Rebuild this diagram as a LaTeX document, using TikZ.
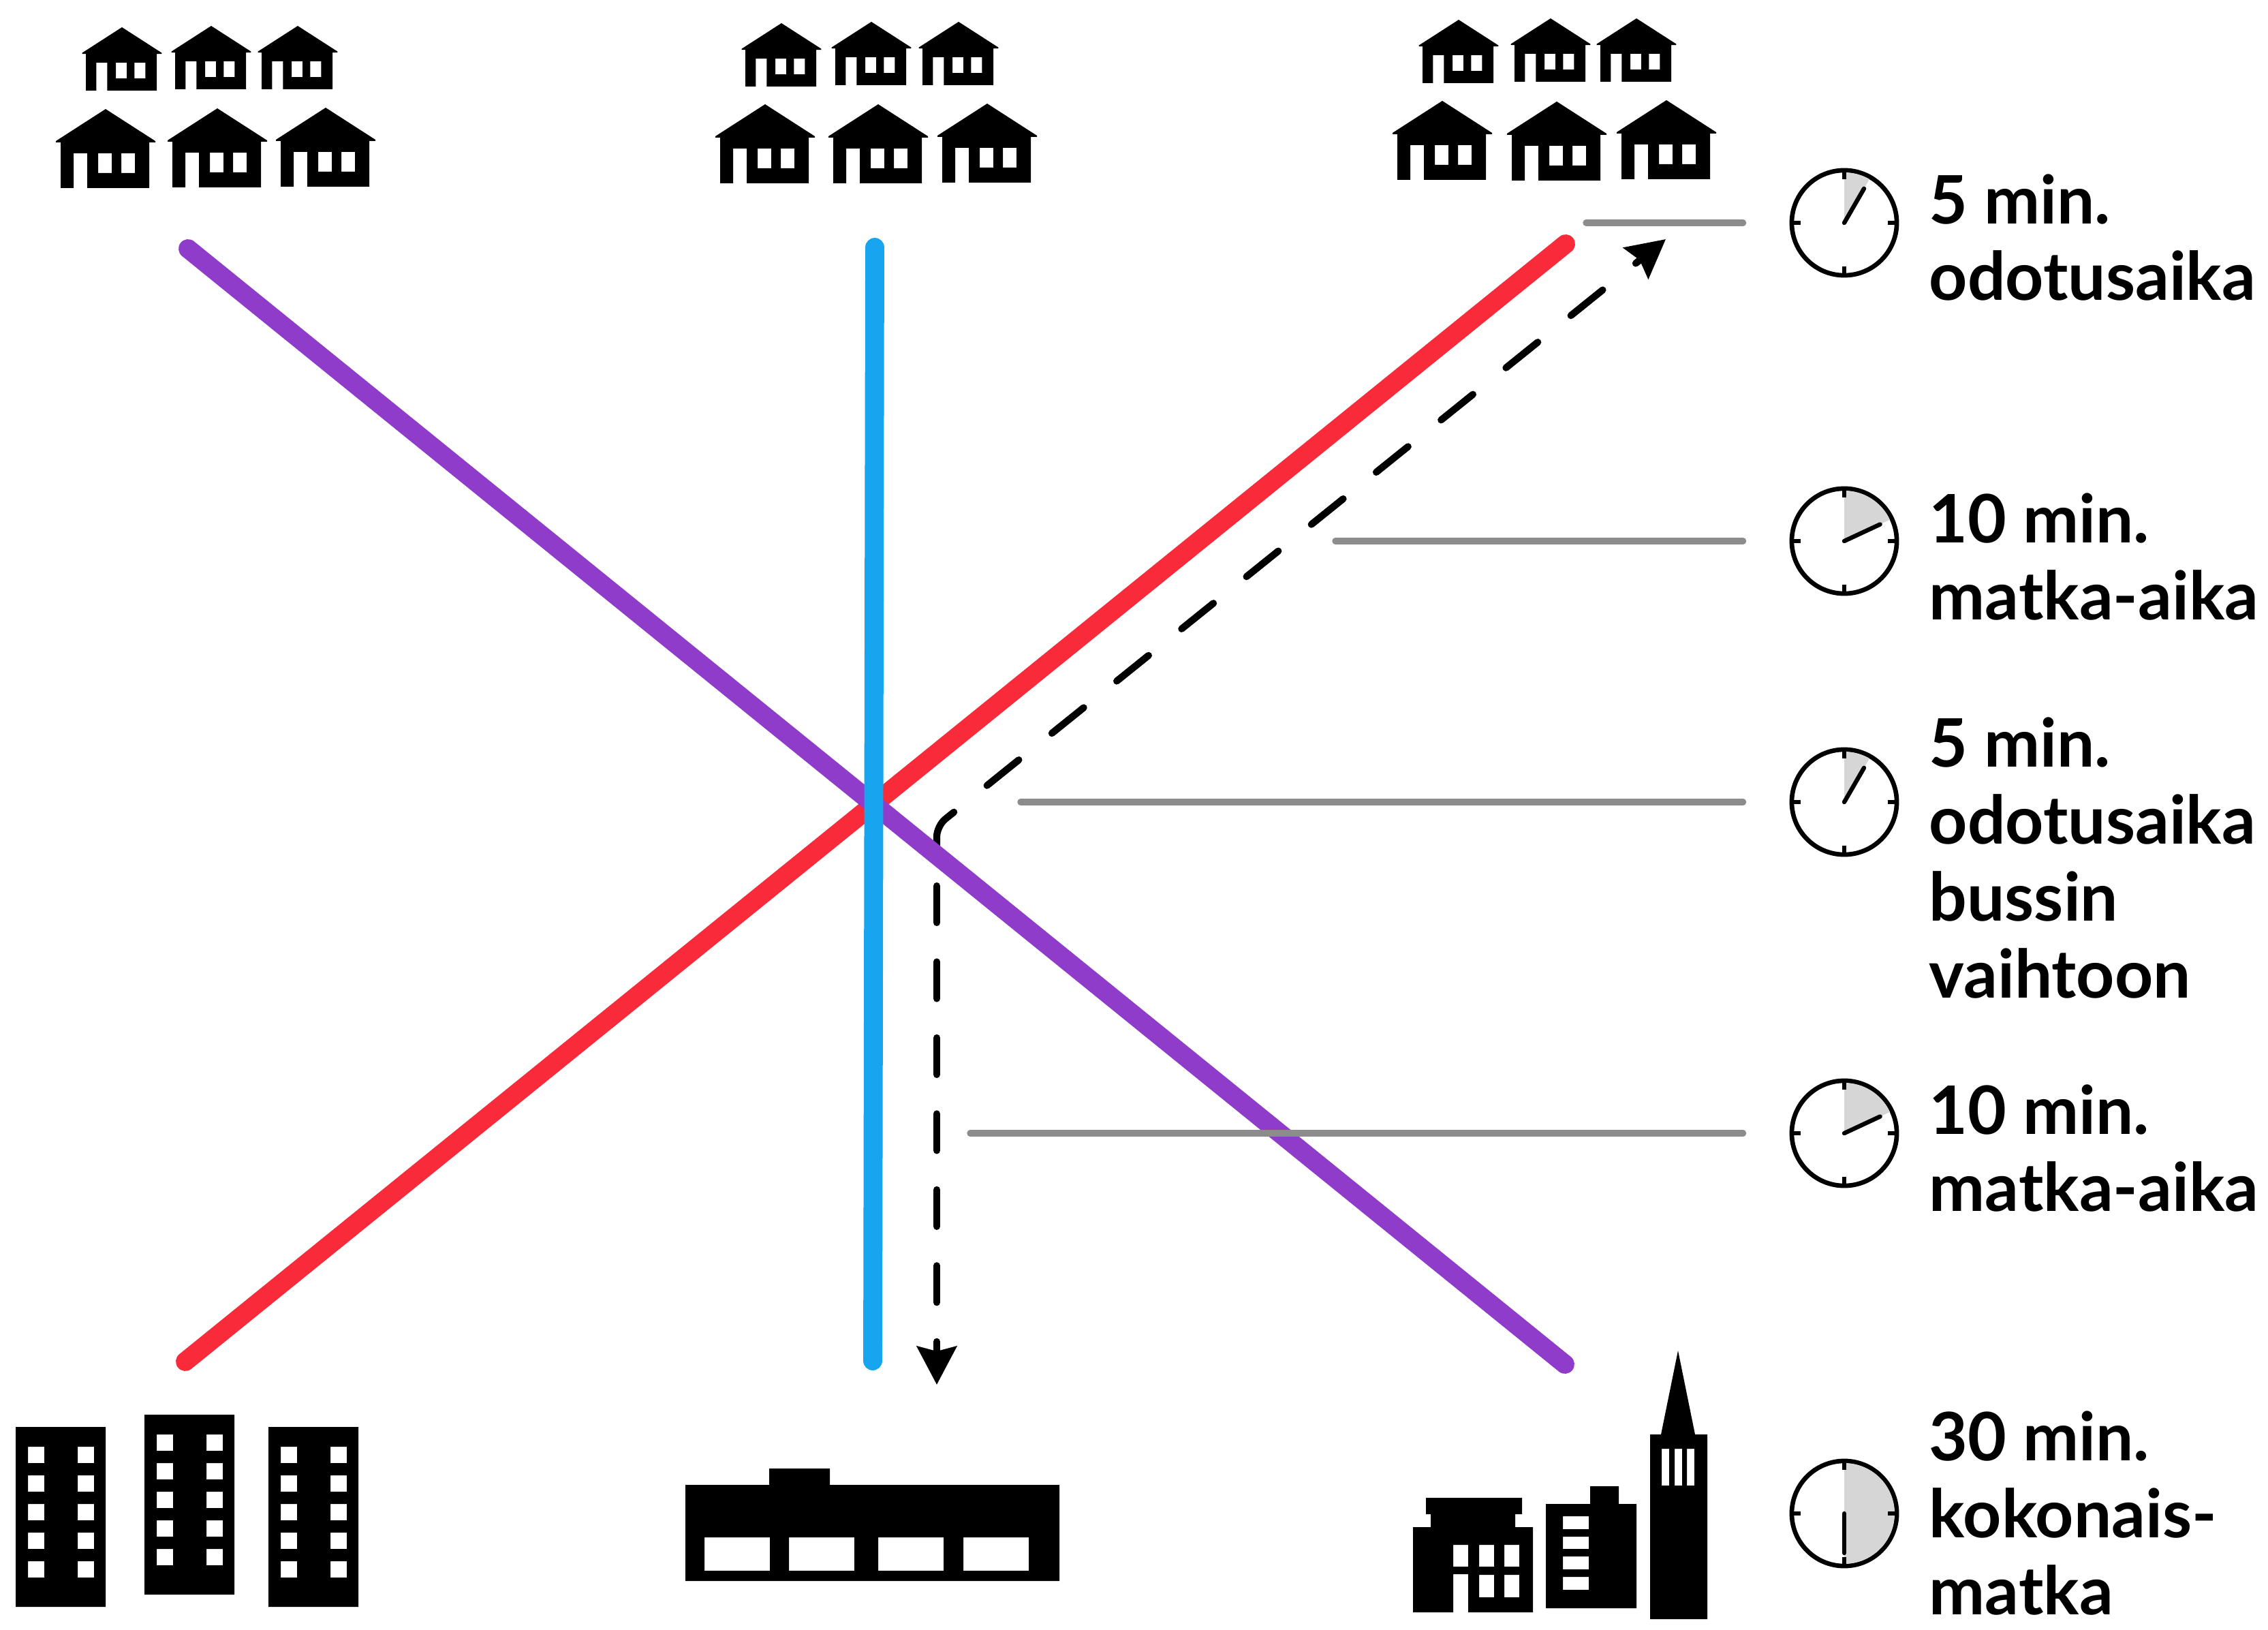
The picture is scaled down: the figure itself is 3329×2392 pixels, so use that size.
\documentclass[tikz,border=0pt]{standalone}
\usepackage{fontspec}
\setmainfont{Lato}
\usetikzlibrary{arrows.meta}

\definecolor{linered}{HTML}{F92A3A}
\definecolor{linepurple}{HTML}{8F3CCB}
\definecolor{lineblue}{HTML}{17A5F0}
\definecolor{leadgray}{HTML}{8C8C8C}
\definecolor{wedgegray}{HTML}{D6D6D6}

\tikzset{
    busline/.style={line width=7.9pt,line cap=round},
    route/.style={line width=2.9pt,line cap=round,
        -{Stealth[length=15.9pt,width=16.4pt,inset=2pt]}},
    leader/.style={draw=leadgray,line width=2.7pt,line cap=round,shorten >=19.3pt},
    clock/.style={circle,draw,line width=1.9pt,inner sep=0pt,minimum size=43.7pt},
    timelabel/.style={anchor=base west,align=left,inner sep=0pt,
        font=\fontsize{27.8}{32}\selectfont\bfseries},
    house/.pic={
        \fill[even odd rule] (0,0) -- (73,47) -- (73,49) -- (64,49) -- (64,116) -- (-27,116)
            -- (-27,65) -- (-47,65) -- (-47,116) -- (-66,116) -- (-66,49) -- (-73,49) -- (-73,47) -- cycle
            (-11,65) rectangle (9,94) (23,65) rectangle (43,94);
    },
    block/.pic={
        \fill[even odd rule] (0,0) rectangle (132,264)
            \foreach \wx in {18,91} {\foreach \wy in {29,71,113,155,197} {
                (\wx,\wy) rectangle ++(24,24)}};
    }
}

\begin{document}
\begin{tikzpicture}[x=0.2835pt,y=-0.2835pt]
    \useasboundingbox (0,0) rectangle (3329,2392);

    % line ends
    \coordinate (redsw) at (272,1998);
    \coordinate (redne) at (2298,358);
    \coordinate (purplenw) at (276,365);
    \coordinate (purplese) at (2297,2002);
    \coordinate (bluen) at (1284,363);
    \coordinate (blues) at (1281,1997);

    % the trip
    \coordinate (turnstart) at (1375,1242);
    \coordinate (turn) at (1375,1212);
    \coordinate (uptip) at (2445,351);
    \coordinate (downstart) at (1375,1300);
    \coordinate (downtip) at (1375,2032);
    \draw[route,rounded corners=4.5pt,dash pattern=on 17pt off 17.65pt] (turnstart) -- (turn) -- (uptip);
    \draw[route,dash pattern=on 15.3pt off 16.3pt] (downstart) -- (downtip);

    \draw[busline,linered] (redsw) -- (redne);
    \draw[busline,linepurple] (purplenw) -- (purplese);
    \draw[busline,lineblue] (bluen) -- (blues);

    % clocks
    \foreach \cname/\cy/\sweep/\startx in {ca/327/30/2328,cb/794/65/1960,cc/1177/30/1498,cd/1663/65/1424,ce/2221/180/0} {
        \node[clock] (\cname) at (2707,\cy) {};
        \begin{scope}[shift={(\cname)}]
            \fill[wedgegray] (0,0) -- (-90:74) arc[start angle=-90,delta angle=\sweep,radius=74] -- cycle;
            \foreach \tick in {0,90,180,270}
                \draw[line width=1.6pt] (\tick:76) -- (\tick:64);
            \draw[line width=1.8pt,line cap=round] (0,0) -- (-90+\sweep:58);
        \end{scope}
        \ifnum\startx>0
            \coordinate (lead\cname) at (\startx,\cy);
            \draw[leader] (lead\cname) -- (\cname);
        \fi
    }

    % labels
    \node[timelabel] (ta) at (2831,441) {5 min.\\odotusaika};
    \node[timelabel] (tb) at (2831,909) {10 min.\\matka-aika};
    \node[timelabel] (tc) at (2831,1464) {5 min.\\odotusaika\\bussin\\vaihtoon};
    \node[timelabel] (td) at (2831,1777) {10 min.\\matka-aika};
    \node[timelabel] (te) at (2831,2369) {30 min.\\kokonais-\\matka};

    % suburbs
    \foreach \hx/\hy in {179/40,310/38,437/38,1147/34,1279/32,1407/32,2141/29,2276/27,2402/27}
        \pic[scale=0.8] at (\hx,\hy) {house};
    \foreach \hx/\hy in {155/160,319/159,478/158,1123/153,1289/153,1449/152,2117/148,2285/149,2446/147}
        \pic at (\hx,\hy) {house};

    % flats
    \pic at (23,2094) {block};
    \pic at (212,2076) {block};
    \pic at (394,2094) {block};

    % shopping centre
    \fill[even odd rule] (1006,2179) -- (1129,2179) -- (1129,2155) -- (1218,2155) -- (1218,2179)
        -- (1555,2179) -- (1555,2320) -- (1006,2320) -- cycle
        (1034,2256) rectangle (1130,2305) (1158,2256) rectangle (1254,2305)
        (1289,2256) rectangle (1385,2305) (1414,2256) rectangle (1510,2305);

    % city centre
    \fill[even odd rule] (2074,2241) -- (2100,2241) -- (2100,2222) -- (2093,2222) -- (2093,2198)
        -- (2234,2198) -- (2234,2222) -- (2224,2222) -- (2224,2241) -- (2250,2241) -- (2250,2366)
        -- (2155,2366) -- (2155,2310) -- (2133,2310) -- (2133,2366) -- (2074,2366) -- cycle
        (2133,2267) rectangle (2155,2299) (2171,2267) rectangle (2193,2299) (2208,2267) rectangle (2230,2299)
        (2171,2311) rectangle (2193,2344) (2208,2311) rectangle (2230,2344);
    \fill[even odd rule] (2269,2207) -- (2334,2207) -- (2334,2181) -- (2376,2181) -- (2376,2207)
        -- (2402,2207) -- (2402,2360) -- (2269,2360) -- cycle
        (2294,2225) rectangle (2332,2244) (2294,2255) rectangle (2332,2273)
        (2294,2284) rectangle (2332,2303) (2294,2314) rectangle (2332,2333);
    \fill[even odd rule] (2463,1982) -- (2488,2105) -- (2506,2105) -- (2506,2376) -- (2422,2376)
        -- (2422,2105) -- (2438,2105) -- cycle
        (2439,2126) rectangle (2450,2180) (2458,2126) rectangle (2469,2180) (2476,2126) rectangle (2487,2180);
\end{tikzpicture}
\end{document}
